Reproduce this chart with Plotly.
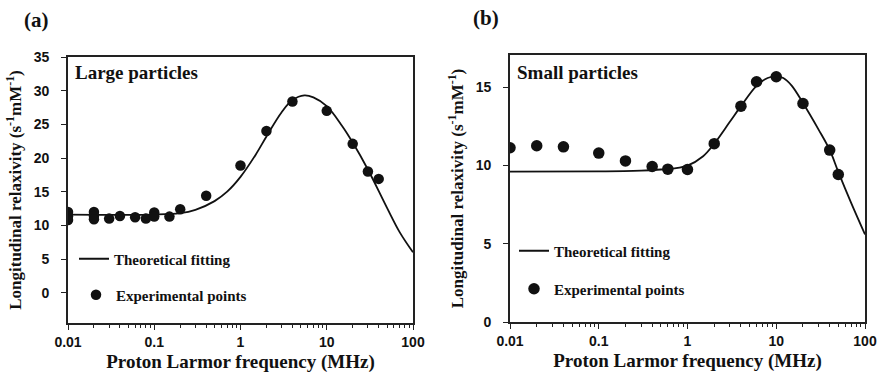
import plotly.graph_objects as go

# ---------------- data ----------------
# Panel (a): large particles
a_fit_x = [0.01, 0.1, 0.2, 0.3, 0.5, 0.7, 1, 1.5, 2, 3, 4, 5.5, 7, 10, 15, 20, 30, 50, 70, 100]
a_fit_y = [11.6, 11.6, 11.8, 12.3, 13.6, 15.0, 17.2, 20.5, 23.2, 26.8, 28.6, 29.3, 29.0, 27.7, 24.8, 22.3, 18.3, 12.6, 9.0, 6.0]
a_pts_x = [0.01, 0.01, 0.01, 0.02, 0.02, 0.02, 0.03, 0.04, 0.06, 0.08, 0.1, 0.1, 0.15, 0.2, 0.4, 1, 2, 4, 10, 20, 30, 40]
a_pts_y = [12.0, 11.3, 10.8, 12.0, 11.4, 10.9, 11.0, 11.4, 11.2, 11.0, 11.9, 11.3, 11.3, 12.4, 14.4, 18.9, 24.0, 28.4, 27.0, 22.1, 18.0, 16.9]

# Panel (b): small particles
b_fit_x = [0.01, 0.1, 0.3, 0.5, 0.7, 1, 1.5, 2, 3, 4, 6, 8, 10, 12, 15, 20, 30, 40, 50, 70, 100]
b_fit_y = [9.62, 9.63, 9.68, 9.75, 9.82, 10.0, 10.6, 11.4, 12.8, 13.8, 15.1, 15.6, 15.7, 15.6, 15.1, 14.0, 12.3, 11.0, 9.6, 7.6, 5.6]
b_pts_x = [0.01, 0.02, 0.04, 0.1, 0.2, 0.4, 0.6, 1, 2, 4, 6, 10, 20, 40, 50]
b_pts_y = [11.14, 11.27, 11.2, 10.8, 10.3, 9.94, 9.77, 9.75, 11.4, 13.8, 15.36, 15.68, 13.97, 10.99, 9.43]

x_tickvals = [0.01, 0.1, 1, 10, 100]
x_ticktext = ["0.01", "0.1", "1", "10", "100"]
x_minor_ticks = [m * d for d in (0.01, 0.1, 1, 10) for m in range(2, 10)]
a_yticks = [0, 5, 10, 15, 20, 25, 30, 35]
b_yticks = [0, 5, 10, 15]

x_title = "<b>Proton Larmor frequency (MHz)</b>"
y_title = "<b>Longitudinal relaxivity (s<sup>-1</sup>mM<sup>-1</sup>)</b>"
fit_name = "<b>Theoretical fitting</b>"
pts_name = "<b>Experimental points</b>"

# ---------------- figure ----------------
W, H = 880, 384
SERIF = "Liberation Serif"
SANS = "Liberation Sans"
INK = "#111111"

fig = go.Figure()

fig.add_trace(go.Scatter(x=a_fit_x, y=a_fit_y, mode="lines", name=fit_name,
                         line=dict(color=INK, width=1.8, shape="spline", smoothing=1.0),
                         xaxis="x", yaxis="y", legend="legend"))
fig.add_trace(go.Scatter(x=a_pts_x, y=a_pts_y, mode="markers", name=pts_name,
                         marker=dict(color=INK, size=10.5),
                         xaxis="x", yaxis="y", legend="legend2"))
fig.add_trace(go.Scatter(x=b_fit_x, y=b_fit_y, mode="lines", name=fit_name,
                         line=dict(color=INK, width=1.8, shape="spline", smoothing=1.0),
                         xaxis="x2", yaxis="y2", legend="legend3"))
fig.add_trace(go.Scatter(x=b_pts_x, y=b_pts_y, mode="markers", name=pts_name,
                         marker=dict(color=INK, size=11.5),
                         xaxis="x2", yaxis="y2", legend="legend4"))

def px_x(p):
    return p / W

def px_y(p):
    return 1 - p / H

axis_common = dict(showline=True, mirror=True, linecolor="#222222", linewidth=1.6,
                   showgrid=False, zeroline=False, ticks="outside", ticklen=5,
                   tickwidth=1.4, tickcolor="#222222",
                   tickfont=dict(family=SANS, size=14, color=INK, weight="bold"))

xaxis_common = dict(axis_common, type="log", range=[-2, 2], tickmode="array",
                    tickvals=x_tickvals, ticktext=x_ticktext,
                    minor=dict(ticks="outside", ticklen=3, tickwidth=1.2, tickcolor="#222222",
                               tickmode="array", tickvals=x_minor_ticks, showgrid=False),
                    title=dict(text=x_title, standoff=6,
                               font=dict(family=SERIF, size=19, color=INK)))

yaxis_title = dict(text=y_title, standoff=8,
                   font=dict(family=SERIF, size=17, color=INK))

fig.update_layout(
    width=W, height=H,
    margin=dict(l=0, r=0, t=0, b=0, autoexpand=False),
    paper_bgcolor="white", plot_bgcolor="white",
    xaxis=dict(xaxis_common, domain=[px_x(68), px_x(413)], anchor="y"),
    yaxis=dict(axis_common, domain=[px_y(323), px_y(57)], anchor="x",
               range=[-4.5, 35], tickmode="array", tickvals=a_yticks,
               ticklabelstandoff=9, title=yaxis_title),
    xaxis2=dict(xaxis_common, domain=[px_x(510), px_x(865)], anchor="y2"),
    yaxis2=dict(axis_common, domain=[px_y(322), px_y(55)], anchor="x2",
                range=[0, 17.07], tickmode="array", tickvals=b_yticks,
                ticklabelstandoff=9, title=yaxis_title),
    showlegend=True,
)

leg_font = dict(family=SERIF, size=15, color=INK)
def leg(x, y):
    return dict(x=px_x(x), y=px_y(y), xanchor="left", yanchor="middle",
                bgcolor="rgba(0,0,0,0)", borderwidth=0, font=leg_font,
                itemwidth=30, itemclick=False, itemdoubleclick=False)

fig.update_layout(legend=leg(74, 259), legend2=leg(76, 295),
                  legend3=leg(514, 251), legend4=leg(514, 289))

ann_font_big = dict(family=SERIF, size=21, color=INK)
ann_font_lbl = dict(family=SERIF, size=19, color=INK)
annotations = [
    dict(text="<b>(a)</b>", x=px_x(22), y=px_y(20), xanchor="left", yanchor="middle", font=ann_font_big),
    dict(text="<b>(b)</b>", x=px_x(471), y=px_y(18), xanchor="left", yanchor="middle", font=ann_font_big),
    dict(text="<b>Large particles</b>", x=px_x(73), y=px_y(72), xanchor="left", yanchor="middle", font=ann_font_lbl),
    dict(text="<b>Small particles</b>", x=px_x(515), y=px_y(72), xanchor="left", yanchor="middle", font=ann_font_lbl),
]
for a in annotations:
    a.update(xref="paper", yref="paper", showarrow=False)
fig.update_layout(annotations=annotations)

fig.write_html("out.html")
